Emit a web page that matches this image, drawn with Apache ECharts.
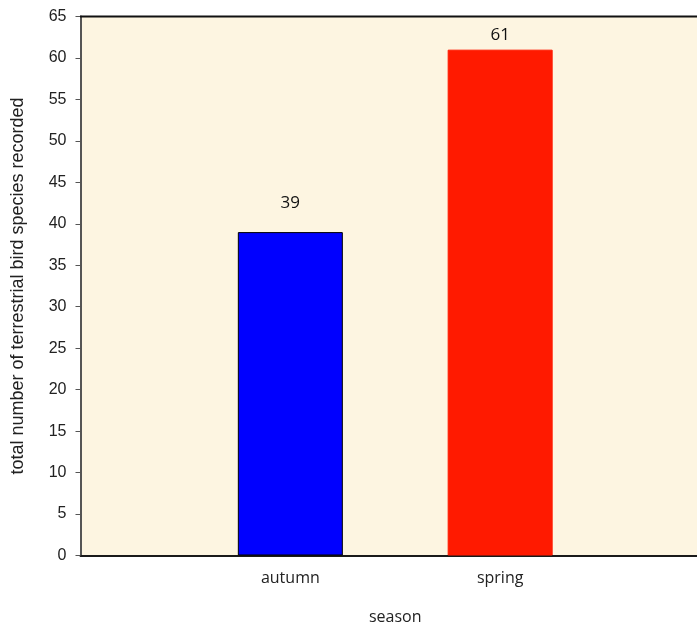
<!DOCTYPE html>
<html>
<head>
<meta charset="utf-8">
<script src="https://cdn.jsdelivr.net/npm/echarts@6/dist/echarts.min.js"></script>
<style>
  html, body { margin: 0; padding: 0; background: #ffffff; }
  #chart { width: 697px; height: 624px; }
</style>
</head>
<body>
<div id="chart"></div>
<script>
// Seasons on the x axis; empty slots pad both ends so the bars sit at 1/3 and 2/3
const seasons = ['', 'autumn', 'spring', ''];
const speciesCounts = ['-', 39, 61, '-'];
const barColors = ['#000000', '#0000ff', '#ff1a00', '#000000'];
const barBorders = ['#000000', '#000000', '#ff1a00', '#000000'];
const labelGaps = [0, 20, 6, 0];
const yTicks = { min: 0, max: 65, step: 5 };

const chart = echarts.init(document.getElementById('chart'));

const barData = speciesCounts.map((v, i) => ({
  value: v,
  itemStyle: { color: barColors[i], borderColor: barBorders[i], borderWidth: 1 },
  label: { distance: labelGaps[i] }
}));

chart.setOption({
  animation: false,
  backgroundColor: '#ffffff',
  grid: {
    left: 80.5, top: 16.5, width: 629.5, height: 539,
    outerBoundsMode: 'none',
    containLabel: false,
    show: true, backgroundColor: '#fdf5e1', borderWidth: 0
  },
  xAxis: {
    type: 'category',
    data: seasons,
    boundaryGap: false,
    name: 'season',
    nameLocation: 'middle',
    nameGap: 54,
    nameTextStyle: { fontFamily: 'Open Sans', fontSize: 16, color: '#222' },
    axisLine: { lineStyle: { color: '#1a1a1a', width: 2 } },
    axisTick: { show: false },
    axisLabel: { fontFamily: 'Open Sans', fontSize: 16, color: '#222', margin: 15 },
    splitLine: { show: false }
  },
  yAxis: {
    type: 'value',
    min: yTicks.min, max: yTicks.max, interval: yTicks.step,
    name: 'total number of terrestrial bird species recorded',
    nameLocation: 'middle',
    nameGap: 53,
    nameTextStyle: { fontFamily: 'Liberation Sans', fontSize: 18, color: '#222' },
    axisLine: { show: true, lineStyle: { color: '#555', width: 2 } },
    axisTick: { show: true, length: 5, lineStyle: { color: '#555', width: 1 } },
    axisLabel: { fontFamily: 'Liberation Sans', fontSize: 16, color: '#222', margin: 14 },
    splitLine: { show: false }
  },
  series: [{
    type: 'bar',
    data: barData,
    barWidth: 105,
    label: {
      show: true, position: 'top',
      fontFamily: 'Open Sans', fontSize: 17, color: '#111'
    }
  }],
  graphic: [{
    type: 'line',
    shape: { x1: 80, y1: 16.5, x2: 697, y2: 16.5 },
    style: { stroke: '#111', lineWidth: 2 },
    z: 10
  }]
});
</script>
</body>
</html>
